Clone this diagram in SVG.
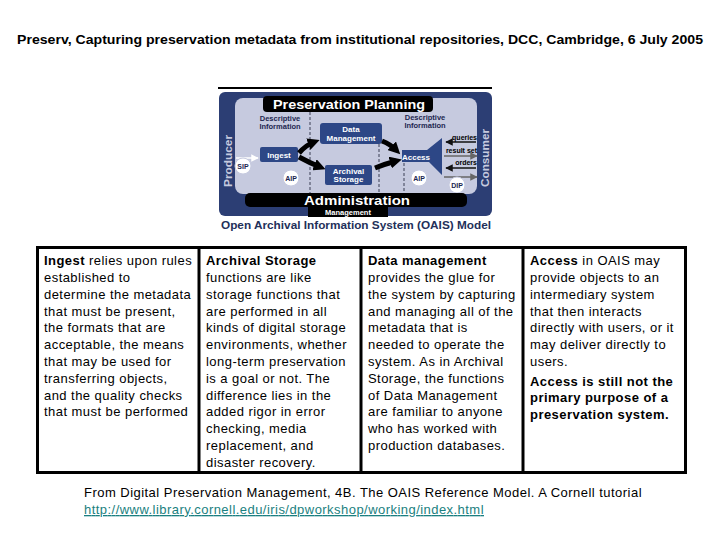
<svg xmlns="http://www.w3.org/2000/svg" width="720" height="540" viewBox="0 0 720 540">
<style>
text{font-family:"Liberation Sans",Arial,sans-serif}
.t{font-size:13px;fill:#000;letter-spacing:0.45px}
.b{font-weight:bold}
.w{fill:#fff;font-weight:bold;text-anchor:middle}
.d{fill:#1d2650;font-size:7.5px;font-weight:bold;text-anchor:middle}
.box{fill:#2d4786}
.dash{stroke:#3a3f55;stroke-width:1;stroke-dasharray:3,2;fill:none}
.big{stroke:#000;stroke-width:5;fill:none;marker-end:url(#bh)}
.circ{fill:#fff;stroke:#c6cadf;stroke-width:1}
</style>
<defs>
<marker id="bh" viewBox="0 0 10 10" refX="5" refY="5" markerWidth="2.4" markerHeight="2.4" orient="auto" markerUnits="strokeWidth"><path d="M0,0L10,5L0,10z" fill="#000"/></marker>
<marker id="shd" viewBox="0 0 10 10" refX="9" refY="5" markerWidth="5" markerHeight="5" orient="auto"><path d="M0,0L10,5L0,10z" fill="#111"/></marker>
<marker id="shg" viewBox="0 0 10 10" refX="9" refY="5" markerWidth="5" markerHeight="5" orient="auto"><path d="M0,0L10,5L0,10z" fill="#666"/></marker>
<marker id="shw" viewBox="0 0 10 10" refX="9" refY="5" markerWidth="5" markerHeight="5" orient="auto"><path d="M0,0L10,5L0,10z" fill="#fff"/></marker>
</defs>
<rect width="720" height="540" fill="#fff"/>
<text x="360" y="44" text-anchor="middle" class="b" font-size="12" textLength="686" lengthAdjust="spacingAndGlyphs">Preserv, Capturing preservation metadata from institutional repositories, DCC, Cambridge, 6 July 2005</text>

<g id="oais">
<line x1="218" y1="88" x2="492" y2="88" stroke="#000" stroke-width="2"/>
<rect x="219" y="92" width="273" height="124" rx="6" fill="#2c3e74"/>
<rect x="235" y="98" width="242" height="96" rx="8" fill="#c6cadf"/>
<text x="231.5" y="161" transform="rotate(-90 231.5 161)" text-anchor="middle" font-size="10" font-weight="bold" fill="#c6cadf" textLength="52" lengthAdjust="spacingAndGlyphs">Producer</text>
<text x="488.5" y="158" transform="rotate(-90 488.5 158)" text-anchor="middle" font-size="10" font-weight="bold" fill="#c6cadf" textLength="58" lengthAdjust="spacingAndGlyphs">Consumer</text>
<g id="planning">
<rect x="263" y="96" width="170" height="16" rx="4" fill="#000"/>
<text x="349" y="109" class="w" font-size="12.5" textLength="152" lengthAdjust="spacingAndGlyphs">Preservation Planning</text>
</g>
<g class="dashes">
<line class="dash" x1="310" y1="112" x2="310" y2="193"/>
<line class="dash" x1="379" y1="144" x2="379" y2="193"/>
<line class="dash" x1="404" y1="163" x2="404" y2="193"/>
</g>
<text x="280" y="121" class="d">Descriptive</text>
<text x="280" y="129" class="d">Information</text>
<text x="425" y="120" class="d">Descriptive</text>
<text x="425" y="128" class="d">Information</text>
<g id="datamgmt">
<rect class="box" x="320" y="123" width="62" height="21" rx="3"/>
<text x="351" y="132" class="w" font-size="8">Data</text>
<text x="351" y="141" class="w" font-size="8">Management</text>
</g>
<g id="ingest">
<rect class="box" x="260" y="147" width="38" height="15" rx="2"/>
<text x="279" y="157.5" class="w" font-size="8">Ingest</text>
</g>
<g id="archival">
<rect class="box" x="325" y="165" width="47" height="20" rx="2"/>
<text x="348.5" y="173.5" class="w" font-size="8">Archival</text>
<text x="348.5" y="182" class="w" font-size="8">Storage</text>
</g>
<g id="access">
<polygon class="box" points="402,150 427,150 442,138 442,175 429,162 402,162"/>
<text x="416" y="159.5" class="w" font-size="8">Access</text>
</g>
<g id="connectors">
<path class="big" d="M299,153 Q306,145 314,142"/>
<path class="big" d="M299,157 Q310,163 320,167"/>
<path class="big" d="M382,141 Q390,144 396,150"/>
<path class="big" d="M375,168 Q385,164 396,161"/>
<line x1="236" y1="158" x2="258" y2="158" stroke="#fff" stroke-width="1.5" marker-end="url(#shw)"/>
<line x1="476" y1="142" x2="446" y2="142" stroke="#111" stroke-width="1.5" marker-end="url(#shd)"/>
<line x1="444" y1="156" x2="477" y2="156" stroke="#666" stroke-width="1.5" marker-end="url(#shg)"/>
<line x1="476" y1="168" x2="446" y2="168" stroke="#111" stroke-width="1.5" marker-end="url(#shd)"/>
<line x1="444" y1="177" x2="477" y2="177" stroke="#666" stroke-width="1.5" marker-end="url(#shg)"/>
</g>
<text x="477" y="140" text-anchor="end" font-size="7" font-weight="bold" fill="#000">queries</text>
<text x="477" y="153" text-anchor="end" font-size="7" font-weight="bold" fill="#000">result set</text>
<text x="477" y="165" text-anchor="end" font-size="7" font-weight="bold" fill="#000">orders</text>
<g id="sip"><circle class="circ" cx="243" cy="166" r="8"/><text x="243" y="169" text-anchor="middle" font-size="7" font-weight="bold" fill="#1d2650">SIP</text></g>
<g id="aip1"><circle class="circ" cx="291" cy="178" r="8"/><text x="291" y="181" text-anchor="middle" font-size="7" font-weight="bold" fill="#1d2650">AIP</text></g>
<g id="aip2"><circle class="circ" cx="419" cy="178" r="8"/><text x="419" y="181" text-anchor="middle" font-size="7" font-weight="bold" fill="#1d2650">AIP</text></g>
<g id="dip"><circle class="circ" cx="457" cy="185" r="8"/><text x="457" y="188" text-anchor="middle" font-size="7" font-weight="bold" fill="#1d2650">DIP</text></g>
<g id="admin">
<rect x="245" y="193" width="222" height="14" rx="5" fill="#000"/>
<text x="357" y="205" class="w" font-size="13" textLength="106" lengthAdjust="spacingAndGlyphs">Administration</text>
<rect x="308" y="207" width="80" height="10" fill="#000"/>
<text x="348" y="215" class="w" font-size="7.5">Management</text>
</g>
<text x="356" y="229" text-anchor="middle" font-size="10.5" font-weight="bold" fill="#23305a" textLength="270" lengthAdjust="spacingAndGlyphs">Open Archival Information System (OAIS) Model</text>
</g>

<g id="table" fill="none" stroke="#000" stroke-width="3">
<rect x="37.5" y="247.5" width="648" height="225"/>
<line x1="199" y1="247" x2="199" y2="473"/>
<line x1="361" y1="247" x2="361" y2="473"/>
<line x1="523" y1="247" x2="523" y2="473"/>
</g>

<g id="col-ingest" class="t">
<text x="44" y="265"><tspan class="b">Ingest</tspan> relies upon rules</text>
<text x="44" y="282">established to</text>
<text x="44" y="299">determine the metadata</text>
<text x="44" y="316">that must be present,</text>
<text x="44" y="332">the formats that are</text>
<text x="44" y="349">acceptable, the means</text>
<text x="44" y="366">that may be used for</text>
<text x="44" y="383">transferring objects,</text>
<text x="44" y="400">and the quality checks</text>
<text x="44" y="416">that must be performed</text>
</g>
<g id="col-archival" class="t">
<text x="206" y="265" class="b">Archival Storage</text>
<text x="206" y="282">functions are like</text>
<text x="206" y="299">storage functions that</text>
<text x="206" y="316">are performed in all</text>
<text x="206" y="332">kinds of digital storage</text>
<text x="206" y="349">environments, whether</text>
<text x="206" y="366">long-term preservation</text>
<text x="206" y="383">is a goal or not. The</text>
<text x="206" y="400">difference lies in the</text>
<text x="206" y="416">added rigor in error</text>
<text x="206" y="433">checking, media</text>
<text x="206" y="450">replacement, and</text>
<text x="206" y="467">disaster recovery.</text>
</g>
<g id="col-datamgmt" class="t">
<text x="368" y="265" class="b">Data management</text>
<text x="368" y="282">provides the glue for</text>
<text x="368" y="299">the system by capturing</text>
<text x="368" y="316">and managing all of the</text>
<text x="368" y="332">metadata that is</text>
<text x="368" y="349">needed to operate the</text>
<text x="368" y="366">system. As in Archival</text>
<text x="368" y="383">Storage, the functions</text>
<text x="368" y="400">of Data Management</text>
<text x="368" y="416">are familiar to anyone</text>
<text x="368" y="433">who has worked with</text>
<text x="368" y="450">production databases.</text>
</g>
<g id="col-access" class="t">
<text x="530" y="265"><tspan class="b">Access</tspan> in OAIS may</text>
<text x="530" y="282">provide objects to an</text>
<text x="530" y="299">intermediary system</text>
<text x="530" y="316">that then interacts</text>
<text x="530" y="332">directly with users, or it</text>
<text x="530" y="349">may deliver directly to</text>
<text x="530" y="366">users.</text>
<text x="530" y="386" class="b">Access is still not the</text>
<text x="530" y="402" class="b">primary purpose of a</text>
<text x="530" y="419" class="b">preservation system.</text>
</g>

<g id="footer">
<text x="84" y="497" class="t" textLength="558" lengthAdjust="spacing">From Digital Preservation Management, 4B. The OAIS Reference Model. A Cornell tutorial</text>
<text x="84" y="514" class="t" style="fill:#1a7f80" text-decoration="underline" textLength="400" lengthAdjust="spacing">http://www.library.cornell.edu/iris/dpworkshop/working/index.html</text>
</g>
</svg>
